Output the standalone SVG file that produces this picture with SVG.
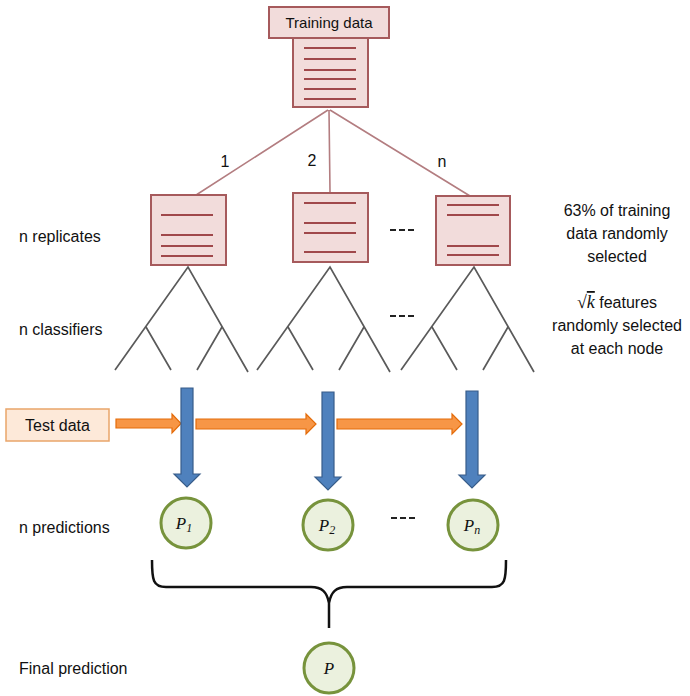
<svg xmlns="http://www.w3.org/2000/svg" width="690" height="696" viewBox="0 0 690 696">
<style>
text{font-family:"Liberation Sans",Arial,sans-serif;fill:#111}
.lbl{font-size:16px}
.rt{font-size:16px;text-anchor:middle}
.box{fill:#f2dcdb;stroke:#a65a5c;stroke-width:2}
.ln{stroke:#a0484b;stroke-width:2}
.conn{stroke:#b37d80;stroke-width:1.6;fill:none}
.tree{stroke:#5a5a5a;stroke-width:1.7;fill:none}
.circ{fill:#ebf1de;stroke:#77933c;stroke-width:3}
.pt{font-family:"Liberation Serif","Times New Roman",serif;font-style:italic;font-size:17px;text-anchor:middle}
.sub{font-size:12px}
.orange{fill:#f79646;stroke:#e46c0a;stroke-width:1.2}
.blue{fill:#4f81bd;stroke:#385d8a;stroke-width:1.2}
.dash{stroke:#222;stroke-width:2;stroke-dasharray:6 3}
</style>

<g id="connectors">
  <path class="conn" d="M328,110 L193,197 M329,110 L330,192 M330,110 L470,196"/>
  <text class="lbl" x="225" y="167" text-anchor="middle" font-size="15">1</text>
  <text class="lbl" x="312" y="166" text-anchor="middle" font-size="15">2</text>
  <text class="lbl" x="442" y="167" text-anchor="middle" font-size="15">n</text>
  <!-- orange arrows -->
  <path class="orange" d="M116,419 L172,419 L172,414 L181,423.5 L172,433 L172,428 L116,428 Z"/>
  <path class="orange" d="M196,419 L306,419 L306,414 L316,424 L306,434 L306,429 L196,429 Z"/>
  <path class="orange" d="M337,419 L452,419 L452,414 L462,424 L452,434 L452,429 L337,429 Z"/>
  <!-- blue arrows -->
  <path class="blue" d="M181,388 L193,388 L193,474 L200,474 L187,487 L174,474 L181,474 Z"/>
  <path class="blue" d="M322,392 L334,392 L334,477 L341,477 L328,490 L315,477 L322,477 Z"/>
  <path class="blue" d="M466,391 L478,391 L478,475 L485,475 L472,488 L459,475 L466,475 Z"/>
  <!-- brace -->
  <path d="M152,560 C152,580 153,587 166,587 L311,587 C322,587 327,592 329,603 L329,628 M329,603 C331,592 336,587 347,587 L492,587 C505,587 506,580 506,560" fill="none" stroke="#111" stroke-width="2.5"/>
  <!-- dashes -->
  <line class="dash" x1="390" y1="230" x2="415" y2="230"/>
  <line class="dash" x1="390" y1="316" x2="415" y2="316"/>
  <line class="dash" x1="391" y1="518" x2="415" y2="518"/>
</g>

<g id="training-data">
  <rect class="box" x="293" y="37" width="75" height="70"/>
  <rect class="box" x="269" y="7" width="120" height="31"/>
  <text x="329" y="28" text-anchor="middle" font-size="15">Training data</text>
  <path class="ln" d="M304,48H356M304,59H356M304,70H356M304,79H356M304,89H356M304,99H356"/>
</g>

<g id="replicate-1">
  <rect class="box" x="151" y="195" width="75" height="70"/>
  <path class="ln" d="M161,215H213M161,235H213M161,246H213M161,256H213"/>
</g>
<g id="replicate-2">
  <rect class="box" x="293" y="193" width="75" height="69"/>
  <path class="ln" d="M304,203H356M304,223H356M304,233H356M304,252H356"/>
</g>
<g id="replicate-n">
  <rect class="box" x="436" y="196" width="74" height="69"/>
  <path class="ln" d="M447,205H499M447,215H499M447,246H499M447,255H499"/>
</g>

<g id="classifier-1">
  <path class="tree" d="M115,370 L188,267 L248,372 M146,327 L171,370 M222,327 L197,370"/>
</g>
<g id="classifier-2">
  <path class="tree" d="M257,370 L330,267 L390,372 M288,327 L313,370 M364,327 L339,370"/>
</g>
<g id="classifier-n">
  <path class="tree" d="M401,370 L474,267 L534,372 M432,327 L457,370 M508,327 L483,370"/>
</g>

<g id="test-data">
  <rect x="6" y="409" width="103" height="32" fill="#fde9d9" stroke="#e9a56a" stroke-width="1.5"/>
  <text class="lbl" x="57.5" y="431" text-anchor="middle">Test data</text>
</g>

<g id="p1">
  <circle class="circ" cx="186" cy="523" r="25"/>
  <text class="pt" x="184" y="529">P<tspan class="sub" dy="3">1</tspan></text>
</g>
<g id="p2">
  <circle class="circ" cx="328" cy="525" r="25"/>
  <text class="pt" x="327" y="531">P<tspan class="sub" dy="3">2</tspan></text>
</g>
<g id="pn">
  <circle class="circ" cx="473" cy="525" r="25"/>
  <text class="pt" x="472" y="531">P<tspan class="sub" dy="3">n</tspan></text>
</g>
<g id="p-final">
  <circle class="circ" cx="329" cy="668" r="25"/>
  <text class="pt" x="329" y="674">P</text>
</g>

<g id="labels">
  <text class="lbl" x="19" y="242">n replicates</text>
  <text class="lbl" x="19" y="335">n classifiers</text>
  <text class="lbl" x="19" y="533">n predictions</text>
  <text class="lbl" x="19" y="674">Final prediction</text>
  <text class="rt" x="617" y="216">63% of training</text>
  <text class="rt" x="617" y="239">data randomly</text>
  <text class="rt" x="617" y="262">selected</text>
  <text class="rt" x="617" y="308"><tspan font-family="Liberation Serif,serif" font-size="18">√<tspan font-style="italic" text-decoration="overline">k</tspan></tspan> features</text>
  <text class="rt" x="617" y="331">randomly selected</text>
  <text class="rt" x="617" y="354">at each node</text>
</g>
</svg>
